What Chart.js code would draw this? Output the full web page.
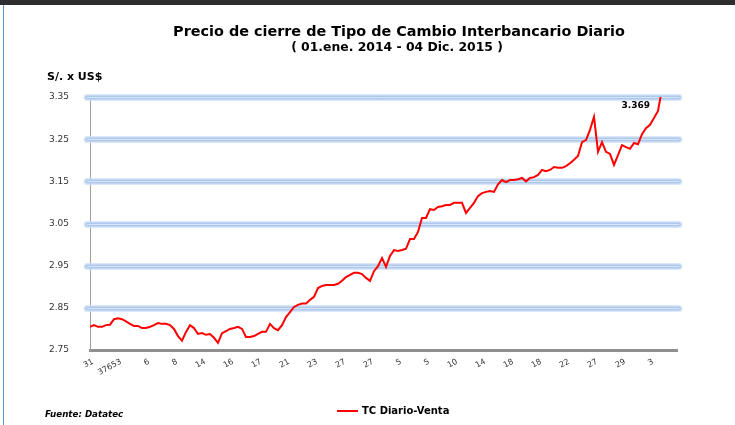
<!DOCTYPE html>
<html><head><meta charset="utf-8">
<script src="https://cdn.jsdelivr.net/npm/chart.js@4"></script>
<style>
html,body{margin:0;padding:0;background:#fff;}
#wrap{position:relative;width:735px;height:425px;overflow:hidden;background:#fff;}
#topbar{position:absolute;left:0;top:0;width:735px;height:5px;background:#2e2e2e;}
#leftbar{position:absolute;left:3px;top:5px;width:1px;height:420px;background:#5b8fd0;}
canvas{position:absolute;left:0;top:0;}
</style></head>
<body><div id="wrap"><canvas id="c" width="735" height="425"></canvas><div id="topbar"></div><div id="leftbar"></div></div>
<script>
const chartTitle = 'Precio de cierre de Tipo de Cambio Interbancario Diario';
const chartSubtitle = '( 01.ene. 2014 - 04 Dic. 2015 )';
const unitLabel = 'S/. x US$';
const sourceLabel = 'Fuente: Datatec';
const seriesName = 'TC Diario-Venta';
const tickLabels = ['31','37653','6','8','14','16','17','21','23','27','27','5','5','10','14','18','18','22','27','29','3'];
const yTicks = [2.75, 2.85, 2.95, 3.05, 3.15, 3.25, 3.35];
const values = [
 2.805,2.809,2.805,2.805,2.809,2.810,2.823,2.825,2.823,2.818,
 2.812,2.807,2.807,2.802,2.802,2.805,2.809,2.814,2.812,2.812,
 2.809,2.800,2.783,2.772,2.793,2.809,2.802,2.788,2.790,2.786,
 2.788,2.779,2.767,2.790,2.795,2.800,2.802,2.805,2.800,2.781,
 2.781,2.783,2.788,2.793,2.793,2.812,2.802,2.797,2.809,2.828,
 2.840,2.852,2.857,2.860,2.860,2.869,2.876,2.897,2.902,2.904,
 2.904,2.904,2.907,2.914,2.923,2.928,2.933,2.933,2.930,2.921,
 2.914,2.937,2.949,2.968,2.947,2.973,2.987,2.985,2.987,2.990,
 3.013,3.013,3.030,3.063,3.063,3.084,3.082,3.089,3.091,3.094,
 3.094,3.099,3.099,3.099,3.075,3.087,3.099,3.115,3.122,3.125,
 3.127,3.125,3.143,3.153,3.148,3.153,3.153,3.155,3.158,3.150,
 3.158,3.160,3.165,3.177,3.174,3.177,3.184,3.182,3.182,3.186,
 3.193,3.201,3.210,3.243,3.248,3.272,3.303,3.220,3.243,3.220,
 3.215,3.189,3.212,3.236,3.231,3.227,3.241,3.238,3.262,3.276,
 3.284,3.300,3.317,3.369
];
const labelEvery = 7;
const FONT = '"DejaVu Sans", Verdana, sans-serif';

const deco = {
  id: 'deco',
  beforeDatasetsDraw(chart) {
    const {ctx, chartArea: a, scales: {y}} = chart;
    ctx.save();
    ctx.lineCap = 'round';
    y.ticks.forEach(t => {
      if (t.value <= y.min + 1e-9) return;
      const py = Math.round(y.getPixelForValue(t.value)) + 0.5;
      const seg = (w, c) => { ctx.strokeStyle = c; ctx.lineWidth = w; ctx.beginPath(); ctx.moveTo(a.left - 3, py); ctx.lineTo(a.right + 2, py); ctx.stroke(); };
      seg(7, 'rgba(210,226,247,0.8)');
      seg(4, '#abc8ee');
      seg(1, '#d8e6f8');
    });
    ctx.restore();
  },
  afterDraw(chart) {
    const {ctx, chartArea: a} = chart;
    ctx.save();
    ctx.fillStyle = '#000';
    ctx.textBaseline = 'middle';
    ctx.textAlign = 'center';
    ctx.font = 'bold 14.4px ' + FONT;
    ctx.fillText(chartTitle, 399, 32);
    ctx.font = 'bold 12.4px ' + FONT;
    ctx.fillText(chartSubtitle, 397, 48);
    ctx.textAlign = 'left';
    ctx.font = 'bold 11px ' + FONT;
    ctx.fillText(unitLabel, 47, 77);
    ctx.font = 'italic bold 8.7px ' + FONT;
    ctx.fillText(sourceLabel, 45, 415);
    // legend
    ctx.strokeStyle = chart.data.datasets[0].borderColor;
    ctx.lineWidth = 2;
    ctx.beginPath(); ctx.moveTo(337, 411); ctx.lineTo(358, 411); ctx.stroke();
    ctx.font = 'bold 10px ' + FONT;
    ctx.fillText(chart.data.datasets[0].label, 362, 411);
    // last value label
    const meta = chart.getDatasetMeta(0);
    const last = meta.data[meta.data.length - 1];
    const v = values[values.length - 1];
    ctx.textAlign = 'right';
    ctx.font = 'bold 9px ' + FONT;
    ctx.fillText(v.toFixed(3), last.x - 12, a.top + 9);
    ctx.restore();
  }
};

new Chart(document.getElementById('c'), {
  type: 'line',
  data: {
    datasets: [{
      label: seriesName,
      data: values.map((v, i) => ({x: i, y: v})),
      borderColor: '#ff0000',
      borderWidth: 2,
      pointRadius: 0,
      tension: 0,
      fill: false
    }]
  },
  options: {
    responsive: false,
    animation: false,
    devicePixelRatio: 1,
    layout: {padding: {left: 0, right: 58, top: 97, bottom: 45}},
    plugins: {legend: {display: false}, title: {display: false}, tooltip: {enabled: false}},
    scales: {
      x: {
        type: 'linear',
        min: 0,
        max: 146.75,
        grid: {display: false},
        border: {display: true, color: '#8f8f8f', width: 3, dash: [3, 1]},
        ticks: {
          stepSize: labelEvery,
          autoSkip: false,
          minRotation: 28,
          maxRotation: 28,
          padding: -1,
          labelOffset: 3,
          color: '#333',
          font: {family: FONT, size: 8},
          callback: (val) => (val % labelEvery === 0 && tickLabels[val / labelEvery] !== undefined) ? tickLabels[val / labelEvery] : ''
        },
        afterFit: (s) => { s.height = 30; }
      },
      y: {
        min: yTicks[0],
        max: yTicks[yTicks.length - 1],
        afterBuildTicks: (s) => { s.ticks = yTicks.map(v => ({value: v})); },
        grid: {display: false},
        border: {display: true, color: '#a0a0a0', width: 1, dash: [2, 2]},
        ticks: {
          padding: 13,
          color: '#333',
          font: {family: FONT, size: 9},
          callback: (v) => Number(v).toFixed(2)
        },
        afterFit: (s) => { s.width = 90; }
      }
    }
  },
  plugins: [deco]
});
</script>
</body></html>
